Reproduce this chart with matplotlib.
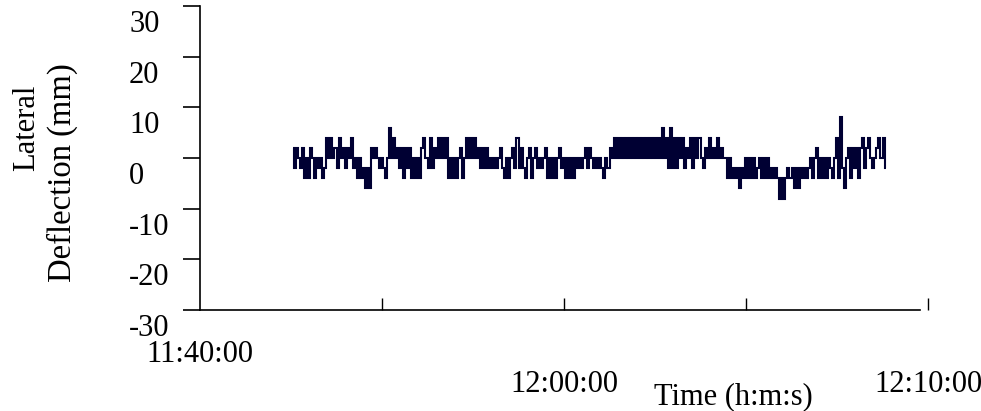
import matplotlib
matplotlib.use("Agg")
import matplotlib.pyplot as plt
import matplotlib.transforms as mtransforms
import numpy as np

# ---- data ----
start_s = 230          # seconds after 11:40:00 (first sample ~11:43:50)
step_s = 5             # sampling interval (s)
deflection_mm = [
    2, -2, 2, 0, -2, 2, -4, 0, -4, 2,
    0, -4, 0, -2, 0, -4, -2,
    4, 0, 4, 0, 2, -2, 4, 0, 2, -2, 2, 0,
    4, -2, 0, -4, 0, -4, -2, -6, -2,
    -6, 2, 0, 2, 0,
    -2, 0, -2, -4, 0,
    6, 0, 4, 0,
    2, -2, 2, -4, 2, -2, 2,
    -4, 0, -4, 0, -4,
    2, 4, 0, -2, 4, -2, 2,
    0, 4, 0, 4, 0, 4,
    -4, 0, -4, 0, -4, 0, 2, -4, 0,
    4, 0, 4, 0, 4, 0,
    2, -2, 2,
    -2, 2, -2, 0, -2, 0,
    -2, 0, 2, -2, -4, 0, -4, 0,
    2, -2, 4, -2, 2,
    -2, -4, 0, 2, -4, 0, 2, -2, 0, -2, 0,
    2, -4, 0, -4, 0, -4,
    0, 2, -2, 0,
    -4, 0, -4, 0, -4, 0,
    -2, 0, -2, 0,
    2, -2, 2, 0, -2,
    0, -2, 0, -2, -4, 0, -2,
    2, 0,
    4, 0, 4, 0, 4, 0, 4, 0, 4, 0, 4, 0, 4, 0, 4, 0, 4, 0, 4, 0, 4, 0, 4, 0,
    6, 0, 4, -2, 6, -2, 4,
    -2, 4, 0, 4, -2, 2, 0, 4, -2, 4, 0, 4, 0, -2, 2, 0, 4, 0, 2, 0, 4, 0, 2, 0,
    0, -4, 0, -4, -2, -4,
    -2, -6, -2, -4,
    0, -4, 0, -4, 0,
    -4, -2,
    0, -4, 0, -4, 0,
    -4, -2, -4, -2,
    -4, -8, -4, -8, -4,
    -2, -4, -2, -6, -2,
    -6, -2, -4,
    -2, -4, -2, 0, -4, 0,
    2, -4, 0, -4, 0, -4, 0, -2, -4, 0, 4, -4, 8, -2, -6, 0,
    2, -4, 2, -2, 2, -4, 2, 4, -2, 2, 4,
    0, -2, 0,
    2, 4, 0, 4, -2,
]
y_ticks = [-30, -20, -10, 0, 10, 20, 30]
x_ticks_s = [450, 900, 1350, 1800]
x_label_pos_s = [0, 900, 1800]
x_label_text = ["11:40:00", "12:00:00", "12:10:00"]

t = start_s + step_s * np.arange(len(deflection_mm))

plt.rcParams['font.family'] = ['Liberation Serif', 'DejaVu Serif']
FS = 22

fig = plt.figure(figsize=(9.81, 4.11), dpi=100)
W, H = 981, 411
ax = fig.add_axes([200 / W, 1 - 310 / H, 728 / W, 304 / H])

ax.plot(t, deflection_mm, color='#000033', lw=1.5, drawstyle='steps-mid',
        solid_joinstyle='miter', solid_capstyle='butt')

ax.set_xlim(0, 1800)
ax.set_ylim(-30, 30)

for s in ['top', 'right']:
    ax.spines[s].set_visible(False)
ax.spines['left'].set_linewidth(1.2)
ax.spines['bottom'].set_linewidth(1.2)
ax.spines['bottom'].set_bounds(0, 1780)

ax.set_xticks(x_ticks_s)
ax.set_xticklabels([])
ax.tick_params(axis='x', direction='in', length=8.6, width=1.0, color='black')

ax.set_yticks(y_ticks)
ax.set_yticklabels([str(v) for v in y_ticks], fontsize=FS)
ax.tick_params(axis='y', direction='out', length=12.2, width=1.2, pad=38.9)
shift = mtransforms.ScaledTranslation(0, -15 / 100, fig.dpi_scale_trans)
for lab in ax.get_yticklabels():
    lab.set_horizontalalignment('left')
    lab.set_transform(lab.get_transform() + shift)

trans = mtransforms.blended_transform_factory(ax.transData, ax.transAxes)
label_y_px = [355, 385, 385]
for xs, txt, ypx in zip(x_label_pos_s, x_label_text, label_y_px):
    ax.text(xs, (310 - ypx) / 304, txt, transform=trans, ha='center', va='center',
            fontsize=FS, clip_on=False)
ax.text(1318, (310 - 397) / 304, "Time (h:m:s)", transform=trans, ha='center',
        va='center', fontsize=FS, clip_on=False)

fig.text(27 / W, 1 - 128 / H, "Lateral", rotation=90, ha='center', va='center', fontsize=22)
fig.text(62 / W, 1 - 173 / H, "Deflection (mm)", rotation=90, ha='center', va='center', fontsize=23.5)

fig.savefig("out.png", dpi=100)
